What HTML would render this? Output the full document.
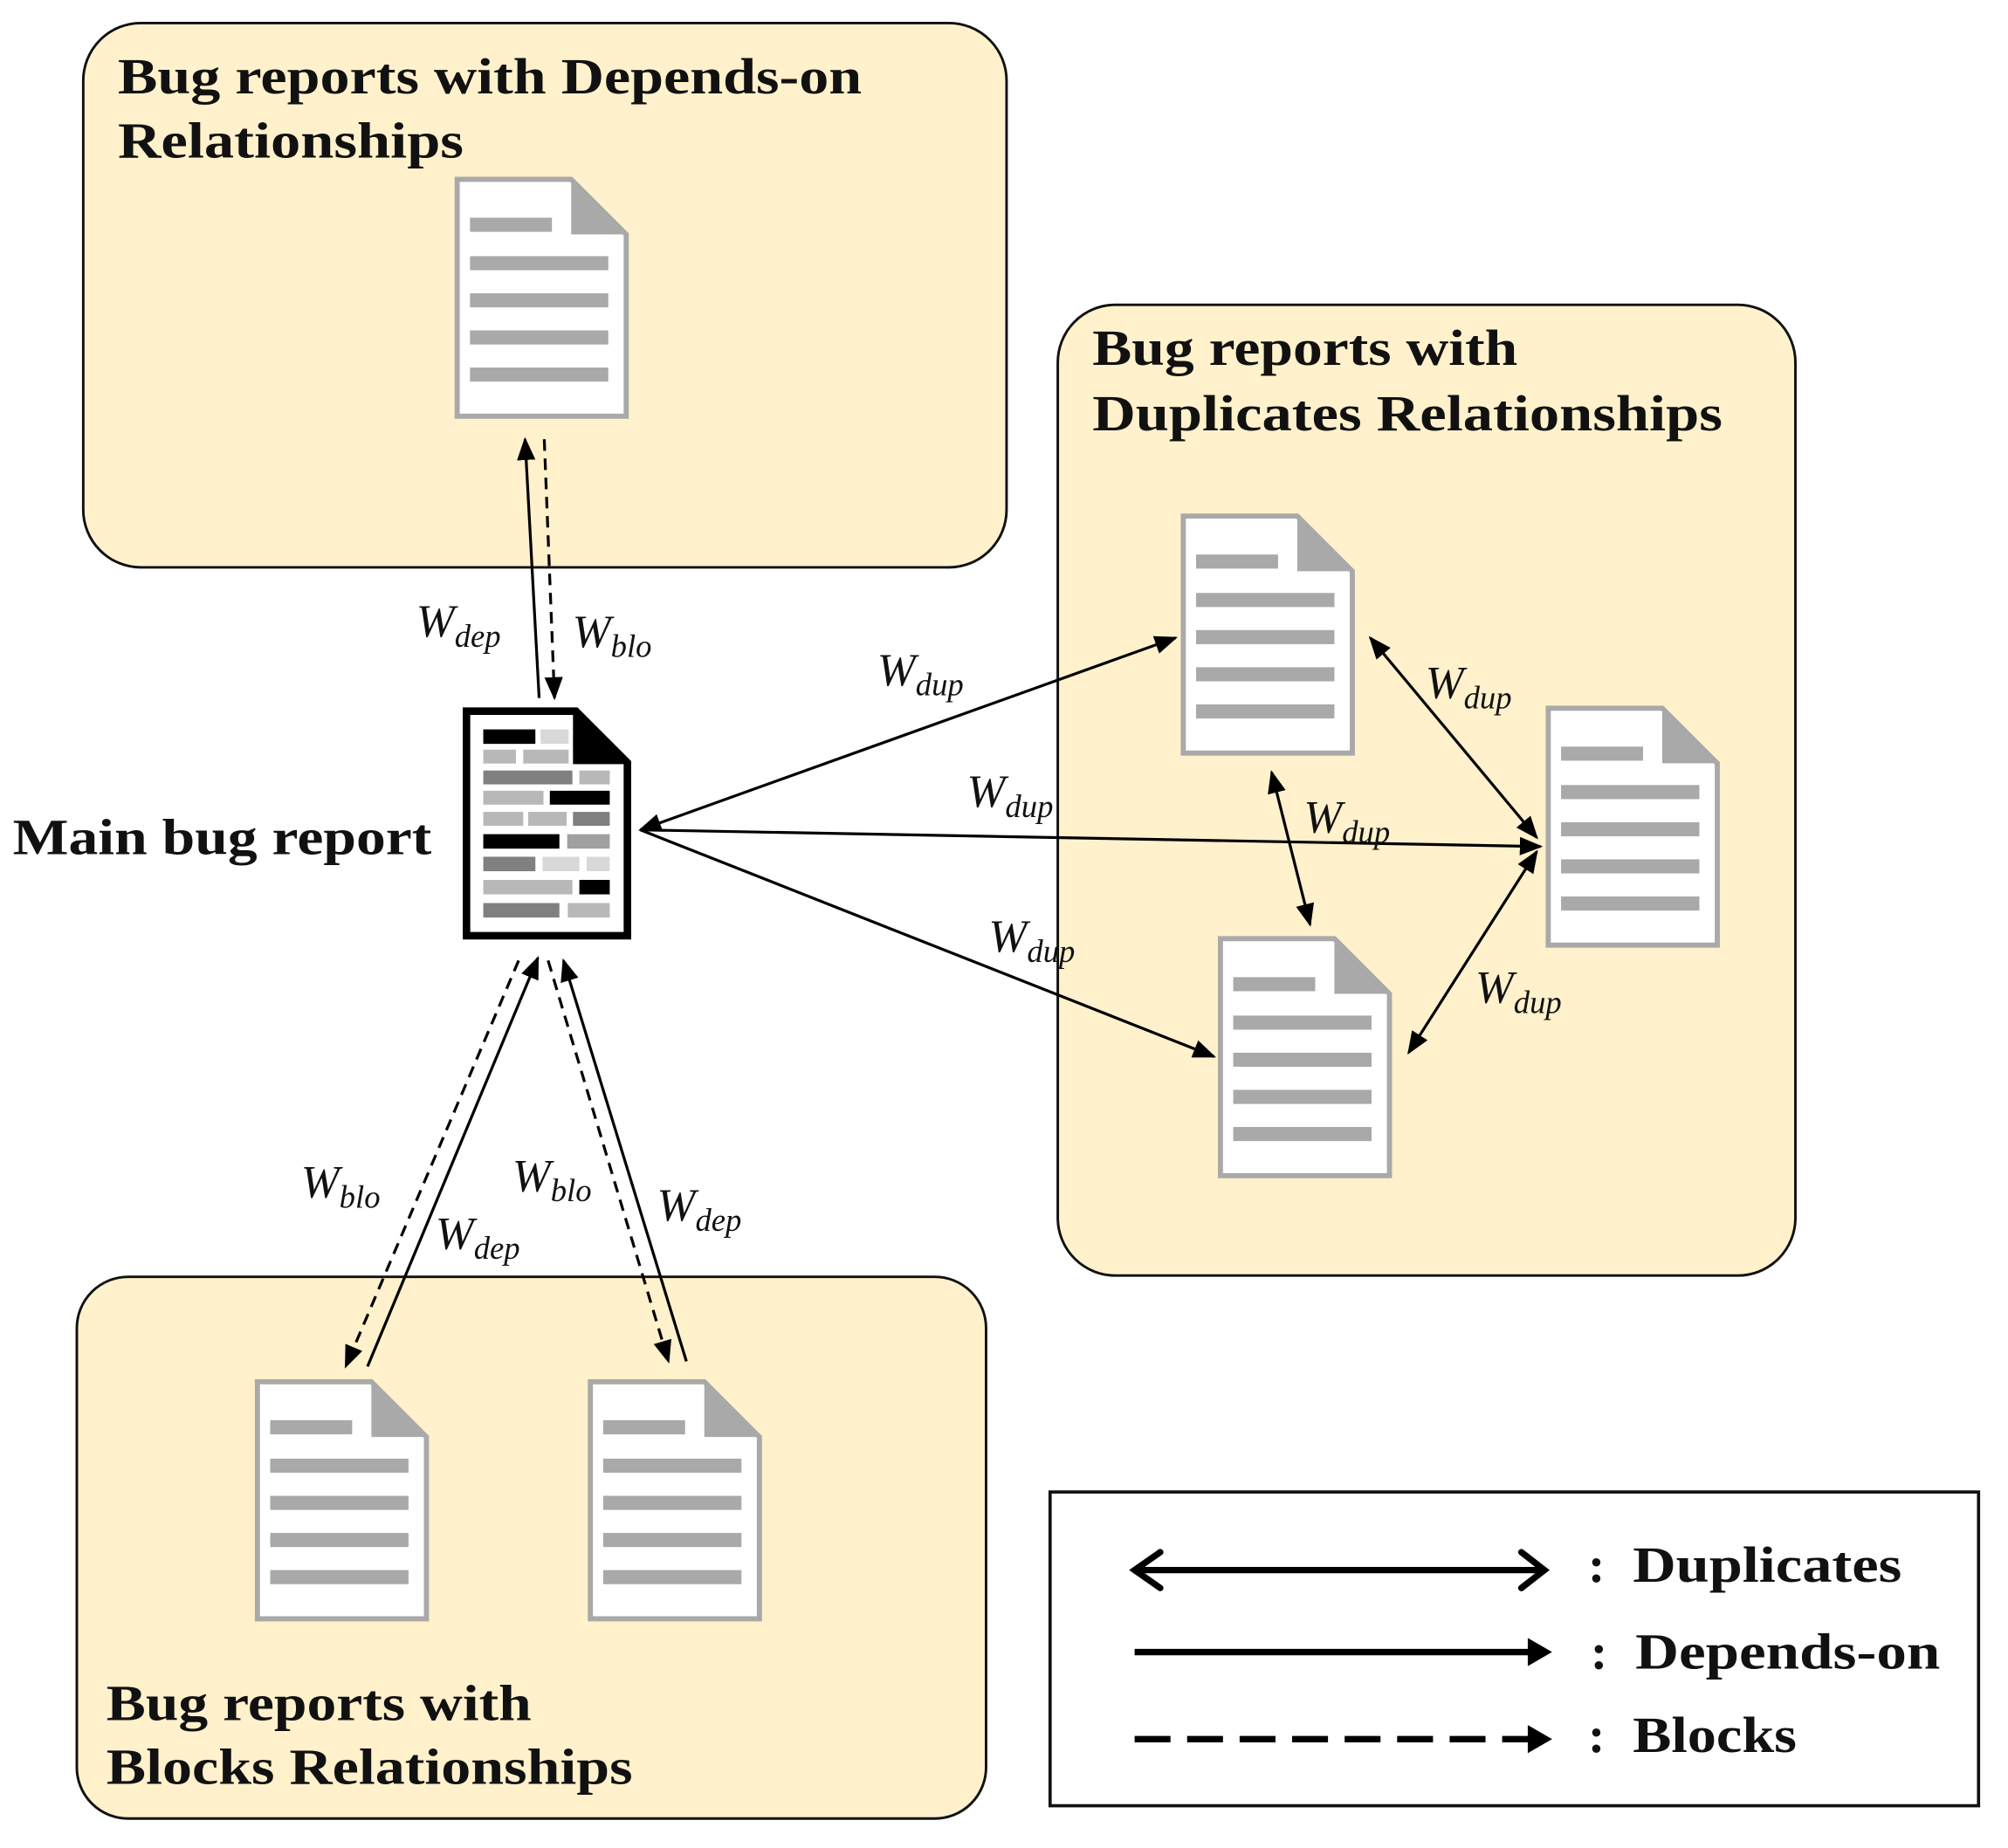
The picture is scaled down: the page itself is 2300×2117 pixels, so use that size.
<!DOCTYPE html>
<html><head><meta charset="utf-8"><style>
html,body{margin:0;padding:0;background:#fff;}
svg{display:block;}
.t{font-family:"Liberation Serif",serif;font-weight:bold;font-size:40px;fill:#111;}
.w{font-family:"Liberation Serif",serif;font-style:italic;font-size:36px;fill:#111;}
.s{font-size:25px;}
</style></head><body>
<svg width="2300" height="2117" viewBox="0 0 1568 1443" preserveAspectRatio="none" xmlns="http://www.w3.org/2000/svg">
<defs>
<marker id="b" viewBox="0 0 10 10" refX="9" refY="5" markerWidth="18" markerHeight="18" markerUnits="userSpaceOnUse" orient="auto-start-reverse"><path d="M0,1 L10,5 L0,9 z" fill="#000"/></marker>
<g id="doc">
<path d="M2,2 H91 L134,45 V187 H2 Z" fill="#fff" stroke="#a9a9a9" stroke-width="4"/>
<path d="M91,2 L134,45 H91 Z" fill="#a9a9a9"/>
<rect x="12" y="32" width="64" height="11" fill="#a9a9a9"/>
<rect x="12" y="62" width="108" height="11" fill="#a9a9a9"/>
<rect x="12" y="91" width="108" height="11" fill="#a9a9a9"/>
<rect x="12" y="120" width="108" height="11" fill="#a9a9a9"/>
<rect x="12" y="149" width="108" height="11" fill="#a9a9a9"/>
</g>
</defs>

<rect x="65" y="18" width="721" height="425" rx="45" fill="#fff1cb" stroke="#111" stroke-width="2"/>
<rect x="826" y="238" width="576" height="758" rx="45" fill="#fff1cb" stroke="#111" stroke-width="2"/>
<rect x="60" y="997" width="710" height="423" rx="40" fill="#fff1cb" stroke="#111" stroke-width="2"/>
<rect x="820" y="1165" width="725" height="245" fill="#fff" stroke="#111" stroke-width="2.5"/>

<text class="t" x="92" y="73" textLength="581" lengthAdjust="spacingAndGlyphs">Bug reports with Depends-on</text>
<text class="t" x="92" y="123" textLength="270" lengthAdjust="spacingAndGlyphs">Relationships</text>
<text class="t" x="853" y="285" textLength="332" lengthAdjust="spacingAndGlyphs">Bug reports with</text>
<text class="t" x="853" y="336" textLength="492" lengthAdjust="spacingAndGlyphs">Duplicates Relationships</text>
<text class="t" x="83" y="1343" textLength="332" lengthAdjust="spacingAndGlyphs">Bug reports with</text>
<text class="t" x="83" y="1393" textLength="411" lengthAdjust="spacingAndGlyphs">Blocks Relationships</text>
<text class="t" x="10" y="667" textLength="327" lengthAdjust="spacingAndGlyphs">Main bug report</text>

<use href="#doc" x="355" y="138"/>
<use href="#doc" x="922" y="401"/>
<use href="#doc" x="1207" y="551"/>
<use href="#doc" x="951" y="731"/>
<use href="#doc" x="199" y="1077"/>
<use href="#doc" x="459" y="1077"/>

<g transform="translate(359.3,549.2) scale(0.226)">
<path d="M22,27 H400 L578,205 V803 H22 Z" fill="#fff" stroke="#000" stroke-width="26"/>
<path d="M390,25 L590,210 H390 Z" fill="#000"/>
<rect x="80" y="90" width="180" height="50" fill="#000"/><rect x="278" y="90" width="97" height="50" fill="#d8d8d8"/>
<rect x="80" y="160" width="113" height="48" fill="#b8b8b8"/><rect x="218" y="160" width="157" height="48" fill="#b8b8b8"/>
<rect x="80" y="232" width="308" height="48" fill="#808080"/><rect x="412" y="232" width="105" height="48" fill="#b8b8b8"/>
<rect x="80" y="302" width="208" height="48" fill="#b8b8b8"/><rect x="310" y="302" width="207" height="48" fill="#000"/>
<rect x="80" y="375" width="138" height="48" fill="#b8b8b8"/><rect x="235" y="375" width="133" height="48" fill="#b8b8b8"/><rect x="390" y="375" width="127" height="48" fill="#808080"/>
<rect x="80" y="452" width="263" height="50" fill="#000"/><rect x="370" y="452" width="147" height="50" fill="#a0a0a0"/>
<rect x="80" y="530" width="180" height="50" fill="#808080"/><rect x="285" y="530" width="127" height="50" fill="#d8d8d8"/><rect x="437" y="530" width="80" height="50" fill="#d8d8d8"/>
<rect x="80" y="610" width="308" height="50" fill="#b8b8b8"/><rect x="412" y="610" width="105" height="50" fill="#000"/>
<rect x="80" y="690" width="263" height="50" fill="#808080"/><rect x="372" y="690" width="145" height="50" fill="#b8b8b8"/>
</g>

<g stroke="#000" stroke-width="2.2" fill="none">
<line x1="421" y1="545" x2="410" y2="343" marker-end="url(#b)"/>
<line x1="425" y1="343" x2="433" y2="545" stroke-dasharray="9,6" marker-end="url(#b)"/>
<line x1="500" y1="648" x2="918" y2="498" marker-start="url(#b)" marker-end="url(#b)"/>
<line x1="500" y1="648" x2="1203" y2="661" marker-end="url(#b)"/>
<line x1="500" y1="648" x2="948" y2="825" marker-end="url(#b)"/>
<line x1="1070" y1="498" x2="1200" y2="654" marker-start="url(#b)" marker-end="url(#b)"/>
<line x1="993" y1="603" x2="1023" y2="722" marker-start="url(#b)" marker-end="url(#b)"/>
<line x1="1200" y1="665" x2="1100" y2="822" marker-start="url(#b)" marker-end="url(#b)"/>
<line x1="405" y1="750" x2="270" y2="1067" stroke-dasharray="9,6" marker-end="url(#b)"/>
<line x1="287" y1="1067" x2="420" y2="748" marker-end="url(#b)"/>
<line x1="428" y1="750" x2="522" y2="1063" stroke-dasharray="9,6" marker-end="url(#b)"/>
<line x1="536" y1="1063" x2="440" y2="750" marker-end="url(#b)"/>
</g>

<text class="w" x="325" y="497">W<tspan class="s" dy="8">dep</tspan></text>
<text class="w" x="447" y="505">W<tspan class="s" dy="8">blo</tspan></text>
<text class="w" x="685" y="535">W<tspan class="s" dy="8">dup</tspan></text>
<text class="w" x="755" y="630">W<tspan class="s" dy="8">dup</tspan></text>
<text class="w" x="772" y="743">W<tspan class="s" dy="8">dup</tspan></text>
<text class="w" x="1113" y="545">W<tspan class="s" dy="8">dup</tspan></text>
<text class="w" x="1018" y="650">W<tspan class="s" dy="8">dup</tspan></text>
<text class="w" x="1152" y="783">W<tspan class="s" dy="8">dup</tspan></text>
<text class="w" x="235" y="935">W<tspan class="s" dy="8">blo</tspan></text>
<text class="w" x="340" y="975">W<tspan class="s" dy="8">dep</tspan></text>
<text class="w" x="400" y="930">W<tspan class="s" dy="8">blo</tspan></text>
<text class="w" x="513" y="953">W<tspan class="s" dy="8">dep</tspan></text>

<g stroke="#000" stroke-width="5" fill="none" stroke-linecap="round">
<line x1="886" y1="1226" x2="1206" y2="1226"/>
<polyline points="906,1212 886,1226 906,1240"/>
<polyline points="1188,1212 1206,1226 1188,1240"/>
<line x1="886" y1="1290" x2="1195" y2="1290" stroke-linecap="butt"/>
<line x1="886" y1="1358" x2="1195" y2="1358" stroke-linecap="butt" stroke-dasharray="28,13"/>
</g>
<path d="M1193,1279 L1212,1290 L1193,1301 Z" fill="#000"/>
<path d="M1193,1347 L1212,1358 L1193,1369 Z" fill="#000"/>
<text class="t" x="1240" y="1235">:</text>
<text class="t" x="1275" y="1235" textLength="210" lengthAdjust="spacingAndGlyphs">Duplicates</text>
<text class="t" x="1242" y="1303">:</text>
<text class="t" x="1277" y="1303" textLength="238" lengthAdjust="spacingAndGlyphs">Depends-on</text>
<text class="t" x="1240" y="1368">:</text>
<text class="t" x="1275" y="1368" textLength="128" lengthAdjust="spacingAndGlyphs">Blocks</text>
</svg>
</body></html>
